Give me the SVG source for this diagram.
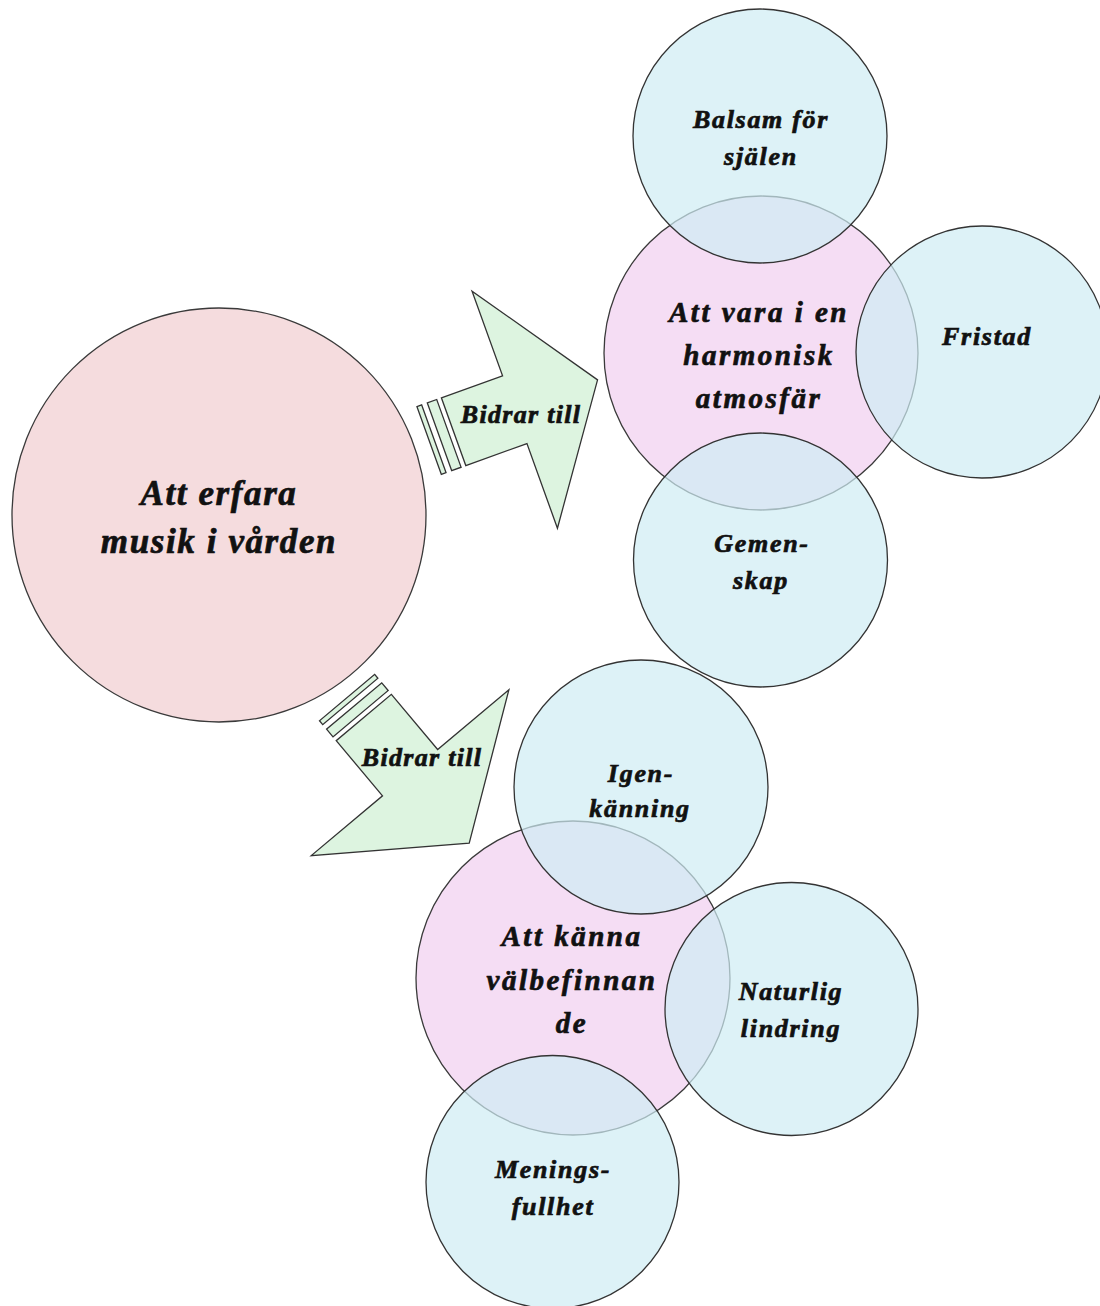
<svg xmlns="http://www.w3.org/2000/svg" width="1100" height="1306" viewBox="0 0 1100 1306">
<style>
text{font-family:"Liberation Serif","Times New Roman",serif;font-weight:bold;font-style:italic;fill:#111;stroke:#111;stroke-width:0.7;text-anchor:middle}
.main{fill:#F5DCDE;stroke:#3a3a3a;stroke-width:1.3}
.theme{fill:#F5DDF4;stroke:#3a3a3a;stroke-width:1.3}
.sub{fill:#CEECF3;fill-opacity:0.7;stroke:#333;stroke-width:1.3}
.arr{fill:#DDF4E0;stroke:#333;stroke-width:1.3;stroke-linejoin:miter}
.t1{font-size:35px;letter-spacing:1.6px}
.t2{font-size:29px;letter-spacing:2.5px}
.t3{font-size:26px;letter-spacing:1.7px}
.t4{font-size:26px;letter-spacing:1.3px}
</style>
<defs>
<g id="stripes">
<polygon class="arr" points="-15,-36 -5,-36 -5,36 -15,36"/>
<polygon class="arr" points="-26,-36 -21,-36 -21,36 -26,36"/>
</g>
</defs>
<g id="node-main">
<circle class="main" cx="219" cy="515" r="207"/>
<text class="t1" x="219" y="505">Att erfara</text>
<text class="t1" x="219" y="553">musik i vården</text>
</g>
<g id="connectors">
<g id="arrow-upper" transform="translate(453.6,431.7) rotate(-19.8)">
<use href="#stripes"/>
<polygon class="arr" points="0,-36 65,-36 65,-126 153,0 65,126 65,36 0,36"/>
</g>
<text class="t4" x="521" y="423">Bidrar till</text>
<g id="arrow-lower" transform="translate(363.8,717.5) rotate(50)">
<use href="#stripes"/>
<polygon class="arr" points="0,-36 72,-36 72,-129 164,0 72,129 72,36 0,36"/>
</g>
<text class="t4" x="422" y="766">Bidrar till</text>
</g>
<g id="node-harmonisk">
<circle class="theme" cx="761" cy="353" r="157"/>
</g>
<g id="node-balsam">
<circle class="sub" cx="760" cy="136" r="127"/>
</g>
<g id="node-fristad">
<circle class="sub" cx="982" cy="352" r="126"/>
</g>
<g id="node-gemenskap">
<circle class="sub" cx="760.5" cy="560" r="127"/>
</g>
<g id="node-valbefinnande">
<circle class="theme" cx="573" cy="978" r="157"/>
</g>
<g id="node-igenkanning">
<circle class="sub" cx="641" cy="787" r="127"/>
</g>
<g id="node-naturlig">
<circle class="sub" cx="791.5" cy="1009" r="126.5"/>
</g>
<g id="node-meningsfullhet">
<circle class="sub" cx="552.5" cy="1182" r="126.5"/>
</g>
<g id="labels">
<text class="t2" x="759" y="322">Att vara i en</text>
<text class="t2" x="759" y="365">harmonisk</text>
<text class="t2" x="759" y="408">atmosfär</text>
<text class="t3" x="761" y="128">Balsam för</text>
<text class="t3" x="761" y="165">själen</text>
<text class="t3" x="987" y="345">Fristad</text>
<text class="t3" x="762" y="552">Gemen-</text>
<text class="t3" x="761" y="589">skap</text>
<text class="t2" x="572" y="946">Att känna</text>
<text class="t2" x="572" y="990">välbefinnan</text>
<text class="t2" x="572" y="1033">de</text>
<text class="t3" x="641" y="782">Igen-</text>
<text class="t3" x="640" y="817">känning</text>
<text class="t3" x="791" y="1000">Naturlig</text>
<text class="t3" x="791" y="1037">lindring</text>
<text class="t3" x="553" y="1178">Menings-</text>
<text class="t3" x="553" y="1215">fullhet</text>
</g>
</svg>
